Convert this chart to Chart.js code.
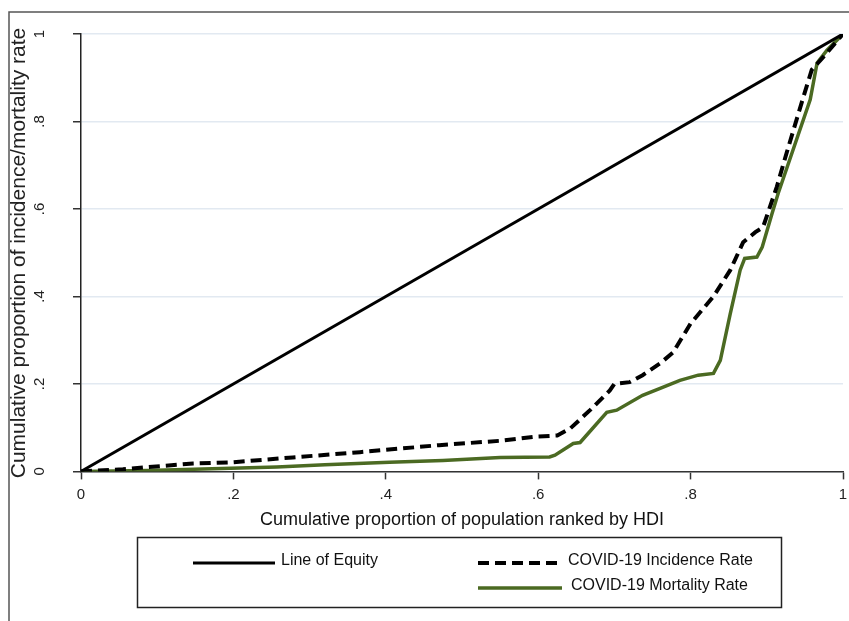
<!DOCTYPE html>
<html>
<head>
<meta charset="utf-8">
<script src="https://cdn.jsdelivr.net/npm/chart.js@4"></script>
<style>
  html, body { margin: 0; padding: 0; background: #fff; }
  #wrap { width: 849px; height: 621px; position: relative; }
</style>
</head>
<body>
<div id="wrap"><canvas id="myChart" width="849" height="621"></canvas></div>
<script>
// values
const seriesNames = ['Line of Equity', 'COVID-19 Incidence Rate', 'COVID-19 Mortality Rate'];
const yTicks = [0, 0.2, 0.4, 0.6, 0.8, 1];

const equityX = [0, 0.5, 1];
const equityY = [0, 0.5, 1];

const incidenceX = [0, 0.055, 0.147, 0.2, 0.278, 0.366, 0.47, 0.55, 0.6, 0.625, 0.642, 0.668, 0.694, 0.70, 0.72, 0.737, 0.76, 0.777, 0.8, 0.83, 0.852, 0.869, 0.885, 0.895, 0.904, 0.913, 0.926, 0.948, 0.959, 0.974, 1];
const incidenceY = [0, 0.005, 0.018, 0.021, 0.032, 0.044, 0.06, 0.07, 0.08, 0.082, 0.098, 0.14, 0.185, 0.20, 0.204, 0.22, 0.247, 0.272, 0.338, 0.40, 0.46, 0.524, 0.547, 0.558, 0.604, 0.65, 0.728, 0.856, 0.918, 0.947, 1];

const mortalityX = [0, 0.087, 0.257, 0.32, 0.405, 0.475, 0.55, 0.615, 0.622, 0.646, 0.655, 0.69, 0.703, 0.737, 0.76, 0.786, 0.81, 0.83, 0.839, 0.852, 0.865, 0.871, 0.887, 0.894, 0.907, 0.915, 0.957, 0.966, 0.979, 1];
const mortalityY = [0, 0.002, 0.01, 0.015, 0.021, 0.025, 0.032, 0.033, 0.037, 0.064, 0.066, 0.135, 0.14, 0.174, 0.19, 0.208, 0.22, 0.224, 0.254, 0.36, 0.46, 0.487, 0.49, 0.513, 0.59, 0.636, 0.85, 0.934, 0.963, 1];

function pts(xs, ys) {
    return xs.map(function (x, i) { return { x: x, y: ys[i] }; });
}

function stataLabel(v) {
    v = Math.round(v * 10) / 10;
    if (v === 0) return '0';
    if (v === 1) return '1';
    return String(v).replace('0.', '.');
}

const FONT = '"Liberation Sans", Arial, sans-serif';

// frame, rotated y labels, y title and the boxed legend
const extras = {
    id: 'extras',
    beforeDraw(chart) {
        const c = chart.ctx;
        c.save();
        c.fillStyle = '#fff';
        c.fillRect(0, 0, chart.width, chart.height);
        c.strokeStyle = '#555';
        c.lineWidth = 1.5;
        c.strokeRect(9, 12, chart.width + 10, chart.height + 10);
        c.restore();
    },
    afterDraw(chart) {
        const c = chart.ctx;
        const ys = chart.scales.y;
        c.save();
        c.fillStyle = '#222';
        c.font = '15px ' + FONT;
        c.textAlign = 'center';
        c.textBaseline = 'middle';
        yTicks.forEach(function (v) {
            c.save();
            c.translate(40, ys.getPixelForValue(v));
            c.rotate(-Math.PI / 2);
            c.fillText(stataLabel(v), 0, 0);
            c.restore();
        });
        c.save();
        c.font = '21px ' + FONT;
        c.translate(19, 253);
        c.rotate(-Math.PI / 2);
        c.fillText('Cumulative proportion of incidence/mortality rate', 0, 0);
        c.restore();

        // legend box
        c.strokeStyle = '#222';
        c.lineWidth = 1.5;
        c.strokeRect(137.5, 537.5, 644, 70);
        const items = [
            { ds: 0, x0: 193, x1: 275, y: 563, tx: 281 },
            { ds: 1, x0: 478, x1: 560, y: 563, tx: 568 },
            { ds: 2, x0: 478, x1: 562, y: 588, tx: 571 }
        ];
        c.font = '16px ' + FONT;
        c.textAlign = 'left';
        items.forEach(function (it) {
            const d = chart.data.datasets[it.ds];
            c.strokeStyle = d.borderColor;
            c.lineWidth = d.borderWidth;
            c.setLineDash(d.borderDash || []);
            c.beginPath();
            c.moveTo(it.x0, it.y);
            c.lineTo(it.x1, it.y);
            c.stroke();
            c.setLineDash([]);
            c.fillStyle = '#111';
            c.fillText(d.label, it.tx, it.y - 2);
        });
        c.restore();
    }
};

const ctx = document.getElementById('myChart');
const myChart = new Chart(ctx, {
    type: 'line',
    data: {
        datasets: [{
            label: seriesNames[0],
            data: pts(equityX, equityY),
            borderColor: '#000',
            borderWidth: 3
        }, {
            label: seriesNames[1],
            data: pts(incidenceX, incidenceY),
            borderColor: '#000',
            borderWidth: 4,
            borderDash: [11, 6]
        }, {
            label: seriesNames[2],
            data: pts(mortalityX, mortalityY),
            borderColor: '#4b6a22',
            borderWidth: 3.5
        }]
    },
    options: {
        responsive: false,
        animation: false,
        elements: { point: { radius: 0 }, line: { tension: 0 } },
        layout: { padding: { left: 0, right: 6, top: 34, bottom: 88 } },
        plugins: { legend: { display: false }, tooltip: { enabled: false } },
        scales: {
            x: {
                type: 'linear',
                min: 0,
                max: 1,
                ticks: {
                    stepSize: 0.2,
                    callback: stataLabel,
                    color: '#222',
                    font: { size: 15, family: FONT },
                    padding: 6,
                    maxRotation: 0
                },
                grid: { drawOnChartArea: false, tickLength: 8, tickColor: '#333', tickWidth: 1.5 },
                border: { color: '#333', width: 1.5 },
                title: {
                    display: true,
                    text: 'Cumulative proportion of population ranked by HDI',
                    color: '#111',
                    font: { size: 18, family: FONT },
                    padding: { top: 0, bottom: 2 }
                },
                afterFit: function (scale) { scale.paddingRight = 0; scale.paddingLeft = 0; }
            },
            y: {
                min: 0,
                max: 1,
                ticks: { stepSize: 0.2, display: false },
                grid: { color: '#e2e9f1', lineWidth: 1.5, tickLength: 8, tickColor: '#333', tickWidth: 1.5 },
                border: { color: '#222', width: 1.5 },
                afterFit: function (scale) { scale.width = 81; }
            }
        }
    },
    plugins: [extras]
});
</script>
</body>
</html>
